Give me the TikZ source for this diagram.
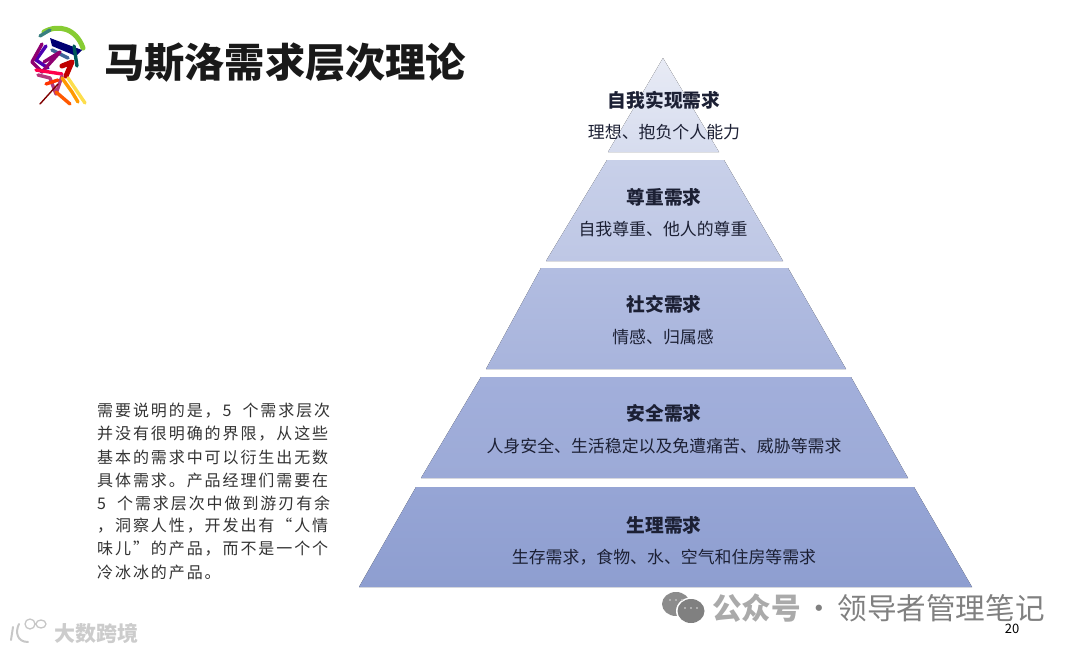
\documentclass[tikz,border=0pt]{standalone}
\usepackage{fontspec}
\setmainfont{Noto Sans CJK SC}
\newfontfamily\cjkls[LetterSpace=12]{Noto Sans CJK SC}
\definecolor{ink}{RGB}{28,32,52}
\definecolor{wmA}{RGB}{170,170,170}
\definecolor{wmB}{RGB}{128,128,128}
\begin{document}
\begin{tikzpicture}[x=1pt,y=-1pt,
  head/.style={font=\fontsize{18.7}{18.7}\selectfont\bfseries,text=ink,inner sep=0},
  sub/.style={font=\fontsize{16.9}{16.9}\selectfont,text=ink,inner sep=0},
  body/.style={anchor=west,font=\fontsize{16}{16}\cjkls,text=black!80,inner sep=0},
  brush/.style={line width=3.4pt,line cap=round,line join=round}]
\useasboundingbox (0,0) rectangle (1080,653);
% pyramid
\fill[top color={rgb,255:red,232;green,235;blue,245},bottom color={rgb,255:red,214;green,220;blue,238}] (663,58) -- (719,152) -- (608,152) -- cycle;
\fill[top color={rgb,255:red,200;green,208;blue,233},bottom color={rgb,255:red,190;green,199;blue,229}] (607,160) -- (724,160) -- (783,261) -- (546,261) -- cycle;
\fill[top color={rgb,255:red,178;green,189;blue,225},bottom color={rgb,255:red,168;green,180;blue,220}] (541,268) -- (788,268) -- (846,369) -- (486,369) -- cycle;
\fill[top color={rgb,255:red,162;green,175;blue,219},bottom color={rgb,255:red,156;green,170;blue,215}] (481,377) -- (851,377) -- (908,478) -- (421,478) -- cycle;
\fill[top color={rgb,255:red,150;green,165;blue,213},bottom color={rgb,255:red,142;green,158;blue,208}] (416,487) -- (914,487) -- (972,587) -- (359,587) -- cycle;
% pyramid text
\node[head] (h1) at (664,100) {自我实现需求};
\node[sub] (s1) at (664,132) {理想、抱负个人能力};
\node[head] (h2) at (664,197) {尊重需求};
\node[sub] (s2) at (663,229) {自我尊重、他人的尊重};
\node[head] (h3) at (664,304) {社交需求};
\node[sub] (s3) at (663,337) {情感、归属感};
\node[head] (h4) at (664,413) {安全需求};
\node[sub] (s4) at (664,446) {人身安全、生活稳定以及免遭痛苦、威胁等需求};
\node[head] (h5) at (664,525) {生理需求};
\node[sub] (s5) at (664,557) {生存需求，食物、水、空气和住房等需求};
% title
\node[inner sep=0,anchor=west,font=\fontsize{40.2}{40.2}\selectfont\bfseries,text=black!90] (title) at (104,63) {马斯洛需求层次理论};
% logo
\draw[brush,color=green!45!yellow!60!gray,line width=5pt] (44,32) .. controls (58,24) and (76,28) .. (83,48);
\draw[brush,color=teal!55!gray] (40,36) -- (50,30);
\fill[color=blue!45!black] (50,38) -- (82,50) -- (76,56) -- (52,46) -- cycle;
\draw[brush,color=teal!70!black] (74,46) -- (77,66);
\draw[brush,color=cyan!50!blue!70!black] (52,50) -- (68,58);
\draw[brush,color=blue!60!purple] (46,46) -- (36,60) -- (48,68);
\draw[brush,color=purple!75!blue] (42,44) -- (32,62) -- (42,72) -- (60,52) -- (44,62);
\draw[brush,color=red!75!black,line width=5pt] (62,66) -- (72,62) -- (66,76);
\draw[brush,color=red!70!magenta] (36,70) -- (62,74);
\draw[brush,color=magenta!70!black] (38,75) -- (50,78) -- (56,94) -- (62,76);
\draw[brush,color=red!60!orange] (46,84) -- (58,80);
\draw[brush,color=orange!80!yellow] (62,78) -- (72,92) -- (78,102);
\draw[brush,color=yellow!70!orange!70!white] (68,78) -- (85,103);
\draw[color=red!50!black,line width=1.4pt,line cap=round] (58,84) -- (40,104);
\draw[brush,color=orange!70!red] (56,92) -- (70,104);
% side text
\node[body] (t1) at (97,411) {需要说明的是，5~ 个需求层次};
\node[body] (t2) at (97,434) {并没有很明确的界限，从这些};
\node[body] (t3) at (97,457) {基本的需求中可以衍生出无数};
\node[body] (t4) at (97,480) {具体需求。产品经理们需要在};
\node[body] (t5) at (97,503) {5~ 个需求层次中做到游刃有余};
\node[body] (t6) at (97,526) {，洞察人性，开发出有“人情};
\node[body] (t7) at (97,549) {味儿”的产品，而不是一个个};
\node[body] (t8) at (97,572) {冷冰冰的产品。};
% watermarks
\node[inner sep=0,anchor=west,font=\fontsize{21}{21}\selectfont\bfseries,text=black!20] (wm1) at (54,633) {大数跨境};
\draw[black!22,line width=2pt,line cap=round] (13,627) -- (11,640) (19,624) .. controls (15,632) and (17,642) .. (28,642);
\draw[black!22,line width=1.3pt] (30,624) circle (5) (41,624) ellipse (5 and 4);
\fill[black!45] (676,604) ellipse (14 and 12);
\fill[white] (691,611) ellipse (15 and 13.5);
\fill[black!50] (691,611) ellipse (13.5 and 12);
\foreach \cx in {670,676,682}{\fill[black!25] (\cx,600) circle (1.1);}
\foreach \cx in {685,691,697}{\fill[black!25] (\cx,608) circle (1.1);}
\node[inner sep=0,anchor=west,font=\fontsize{29.6}{29.6}\selectfont,text=wmB] (wm2) at (712,608) {\textcolor{wmA}{\textbf{公众号}}\hspace{3.5pt}·\hspace{3.5pt}领导者管理笔记};
\node[inner sep=0,font=\fontsize{13}{13}\selectfont,text=black] (pg) at (1012,629) {20};
\end{tikzpicture}
\end{document}
